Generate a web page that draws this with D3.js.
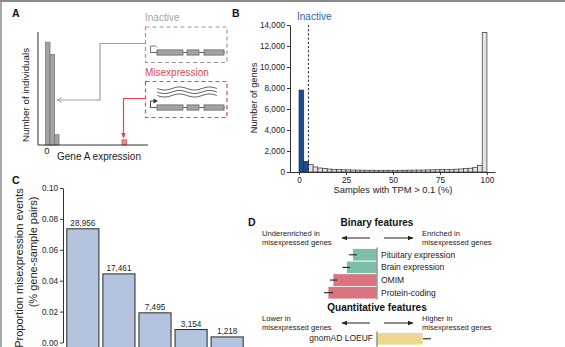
<!DOCTYPE html>
<html>
<head>
<meta charset="utf-8">
<script src="https://cdn.jsdelivr.net/npm/d3@7"></script>
<style>
  body { margin: 0; background: #fff; }
  svg { display: block; }
  text { font-family: "Liberation Sans", Arial, Helvetica, sans-serif; }
</style>
</head>
<body>
<svg id="fig" width="565" height="347"></svg>
<script>
// ---------- Panel A: schematic expression histogram ----------
const aBins = [0, 1, 2];            // expression bins of the bulk of individuals
const aCounts = [100, 88, 10];      // individuals per bin
const aOutlierBin = [17];           // the misexpressing individual
const aOutlierCount = [5];

// ---------- Panel B: genes by % samples with TPM > 0.1 ----------
const bBinWidth = 2.5;
const bCounts = [7800, 1000, 720, 480, 380, 320, 280, 250, 230, 210,
                 200, 190, 180, 175, 170, 165, 160, 160, 160, 160,
                 160, 165, 170, 175, 180, 185, 190, 200, 210, 220,
                 230, 240, 250, 270, 290, 320, 360, 430, 620, 13300];
const bInactiveCut = 5;
const bYTicks = [0, 2000, 4000, 6000, 8000, 10000, 12000, 14000];
const bXTicks = [0, 25, 50, 75, 100];

// ---------- Panel C: proportion of misexpression events ----------
const cCategories = ["1", "2", "3", "4", "5"];
const cValues = [0.0736, 0.0444, 0.0192, 0.0084, 0.0036];
const cLabels = ["28,956", "17,461", "7,495", "3,154", "1,218"];
const cYTicks = [0, 0.02, 0.04, 0.06, 0.08, 0.10];

// ---------- Panel D: feature enrichment ----------
const dBinaryNames = ["Pituitary expression", "Brain expression", "OMIM", "Protein-coding"];
const dBinaryEst = [-0.49, -0.61, -0.88, -0.98];
const dBinaryLo = [-0.56, -0.69, -0.94, -1.06];
const dBinaryHi = [-0.40, -0.54, -0.80, -0.88];
const dBinaryColors = ["#7bbfaa", "#7bbfaa", "#d9737f", "#d9737f"];
const dQuantNames = ["gnomAD LOEUF"];
const dQuantEst = [0.92];
const dQuantLo = [0.92];
const dQuantHi = [1.08];
const dQuantColors = ["#ecd88f"];

const svg = d3.select("#fig").attr("fill", "#222");
const FONT = '"Liberation Sans", Arial, Helvetica, sans-serif';

// figure frame (top and left rules)
svg.append("line").attr("x1", 0).attr("x2", 565).attr("y1", 1).attr("y2", 1)
  .attr("stroke", "#8a8a8a").attr("stroke-width", 2);
svg.append("line").attr("x1", 1).attr("x2", 1).attr("y1", 0).attr("y2", 347)
  .attr("stroke", "#8a8a8a").attr("stroke-width", 1.5);

function panelLetter(t, x, y) {
  svg.append("text").attr("x", x).attr("y", y).text(t)
    .attr("font-size", 10.5).attr("font-weight", "bold").attr("fill", "#111");
}

// arrowhead markers
const defs = svg.append("defs");
function marker(id, color, open) {
  const m = defs.append("marker").attr("id", id)
    .attr("viewBox", "0 0 10 10").attr("refX", 9).attr("refY", 5)
    .attr("markerWidth", 6).attr("markerHeight", 6)
    .attr("markerUnits", "userSpaceOnUse").attr("orient", "auto");
  if (open) {
    m.append("path").attr("d", "M1,1 L9,5 L1,9").attr("fill", "none")
      .attr("stroke", color).attr("stroke-width", 1.4);
  } else {
    m.append("path").attr("d", "M0,1 L10,5 L0,9 Z").attr("fill", color);
  }
}
marker("arGray", "#999", true);
marker("arRed", "#e2464e", false);
marker("arDark", "#222", false);

// =================== Panel A ===================
panelLetter("A", 12, 17);
const gA = svg.append("g");
const xA = d3.scaleLinear().domain([0, 24]).range([45.5, 153.5]);
const yA = d3.scaleLinear().domain([0, 110]).range([145, 32]);

gA.selectAll("rect.hist").data(aBins).join("rect").attr("class", "hist")
  .attr("x", d => xA(d)).attr("width", xA(1) - xA(0))
  .attr("y", (d, i) => yA(aCounts[i])).attr("height", (d, i) => yA(0) - yA(aCounts[i]))
  .attr("fill", "#a3a3a3").attr("stroke", "#777").attr("stroke-width", 0.8);
gA.selectAll("rect.out").data(aOutlierBin).join("rect").attr("class", "out")
  .attr("x", d => xA(d)).attr("width", xA(1) - xA(0))
  .attr("y", (d, i) => yA(aOutlierCount[i])).attr("height", (d, i) => yA(0) - yA(aOutlierCount[i]))
  .attr("fill", "#ef8a8a").attr("stroke", "#e2464e").attr("stroke-width", 0.8);

gA.append("line").attr("x1", 38).attr("x2", 38).attr("y1", 32).attr("y2", yA(0)).attr("stroke", "#333");
gA.append("line").attr("x1", 38).attr("x2", 148).attr("y1", yA(0)).attr("y2", yA(0)).attr("stroke", "#333");
gA.append("text").attr("x", 47).attr("y", 154).attr("text-anchor", "middle")
  .attr("font-size", 9.5).text("0");
gA.append("text").attr("x", 57).attr("y", 159.5).attr("font-size", 10).text("Gene A expression");
gA.append("text").attr("transform", "translate(28.5,95) rotate(-90)").attr("text-anchor", "middle")
  .attr("font-size", 9.8).text("Number of individuals");

// connectors from the gene boxes to the histogram
gA.append("path").attr("d", "M145,43.5 H100 V100 H57").attr("fill", "none")
  .attr("stroke", "#a0a0a0").attr("stroke-width", 1.2).attr("marker-end", "url(#arGray)");
gA.append("path").attr("d", "M145,98.5 H123.5 V138").attr("fill", "none")
  .attr("stroke", "#e2464e").attr("stroke-width", 1.2).attr("marker-end", "url(#arRed)");

// inactive gene box
gA.append("text").attr("x", 145).attr("y", 21).attr("font-size", 10).attr("fill", "#a3a3a3").text("Inactive");
gA.append("rect").attr("x", 145.5).attr("y", 27).attr("width", 81.5).attr("height", 35.5)
  .attr("fill", "none").attr("stroke", "#9a9a9a").attr("stroke-width", 1.2).attr("stroke-dasharray", "4,3");
// misexpression gene box
gA.append("text").attr("x", 145).attr("y", 76).attr("font-size", 10).attr("fill", "#e2464e").text("Misexpression");
gA.append("rect").attr("x", 145.5).attr("y", 81.5).attr("width", 81.5).attr("height", 36)
  .attr("fill", "none").attr("stroke", "#e2464e").attr("stroke-width", 1.2).attr("stroke-dasharray", "4,3");

function gene(yc, active) {
  const g = gA.append("g");
  g.append("line").attr("x1", 150).attr("x2", 225).attr("y1", yc).attr("y2", yc)
    .attr("stroke", "#666").attr("stroke-width", 1);
  [[157, 183], [187, 199], [204, 224]].forEach(([a, b]) => {
    g.append("rect").attr("x", a).attr("y", yc - 2.6).attr("width", b - a).attr("height", 5.2)
      .attr("fill", "#a3a3a3").attr("stroke", "#666").attr("stroke-width", 0.8);
  });
  if (active) {
    g.append("path").attr("d", `M150.5,${yc} V${yc - 6.5} H154`).attr("fill", "none")
      .attr("stroke", "#444").attr("stroke-width", 1);
    g.append("path").attr("d", `M153.5,${yc - 9} L158,${yc - 6.5} L153.5,${yc - 4} Z`).attr("fill", "#333");
  } else {
    // promoter without transcription: a bent stub ending in a short drop
    g.append("path").attr("d", `M150.5,${yc} V${yc - 6.5} H155.5 L157,${yc - 5}`).attr("fill", "none")
      .attr("stroke", "#777").attr("stroke-width", 1);
  }
}
gene(52.5, false);
gene(107.5, true);

// transcripts drawn as wavy lines above the active gene
const wave = d3.line().curve(d3.curveBasis);
[88.5, 92, 95.5].forEach(y0 => {
  const pts = [];
  for (let x = 157; x <= 218; x += 2) pts.push([x, y0 + 1.6 * Math.sin((x - 157) / 60 * 4 * Math.PI)]);
  gA.append("path").attr("d", wave(pts)).attr("fill", "none").attr("stroke", "#666").attr("stroke-width", 1);
});

// =================== Panel B ===================
panelLetter("B", 232, 17);
const gB = svg.append("g");
const xB = d3.scaleLinear().domain([-4.8, 104.3]).range([290, 495]);
const yB = d3.scaleLinear().domain([0, 14000]).range([172, 25]);

gB.selectAll("rect").data(bCounts).join("rect")
  .attr("x", (d, i) => xB(i * bBinWidth))
  .attr("width", xB(bBinWidth) - xB(0))
  .attr("y", d => yB(d)).attr("height", d => yB(0) - yB(d))
  .attr("fill", (d, i) => (i * bBinWidth < bInactiveCut ? "#1c4d8a" : "#e4e4e4"))
  .attr("stroke", (d, i) => (i * bBinWidth < bInactiveCut ? "#12335e" : "#333"))
  .attr("stroke-width", 0.7);

gB.append("line").attr("x1", xB(bInactiveCut)).attr("x2", xB(bInactiveCut))
  .attr("y1", 25).attr("y2", yB(0)).attr("stroke", "#222").attr("stroke-width", 1)
  .attr("stroke-dasharray", "2.2,2");

const axB_y = gB.append("g").attr("transform", "translate(290,0)")
  .call(d3.axisLeft(yB).tickValues(bYTicks).tickFormat(d3.format(",")).tickSize(3).tickSizeOuter(0).tickPadding(2));
const axB_x = gB.append("g").attr("transform", `translate(0,${yB(0)})`)
  .call(d3.axisBottom(xB).tickValues(bXTicks).tickSize(3).tickSizeOuter(0).tickPadding(2));
[axB_y, axB_x].forEach(a => {
  a.selectAll("text").attr("font-size", 8.2).attr("font-family", FONT).attr("fill", "#222");
  a.selectAll("path,line").attr("stroke", "#333");
});
gB.append("text").attr("x", 297).attr("y", 20).attr("font-size", 10).attr("fill", "#2b66a8").text("Inactive");
gB.append("text").attr("transform", "translate(257,98) rotate(-90)").attr("text-anchor", "middle")
  .attr("font-size", 9.2).text("Number of genes");
gB.append("text").attr("x", 393).attr("y", 193).attr("text-anchor", "middle")
  .attr("font-size", 9.4).text("Samples with TPM > 0.1 (%)");

// =================== Panel C ===================
panelLetter("C", 12, 184);
const gC = svg.append("g");
const yC = d3.scaleLinear().domain([0, 0.1]).range([342.5, 188]);
const xC = d3.scaleBand().domain(cCategories).range([65, 245]).paddingInner(0.11).paddingOuter(0.05);

gC.selectAll("rect").data(cValues).join("rect")
  .attr("x", (d, i) => xC(cCategories[i])).attr("width", xC.bandwidth())
  .attr("y", d => yC(d)).attr("height", d => 360 - yC(d))
  .attr("fill", "#b4c3de").attr("stroke", "#2a2a2a").attr("stroke-width", 1);
gC.selectAll("text.lab").data(cValues).join("text").attr("class", "lab")
  .attr("x", (d, i) => xC(cCategories[i]) + xC.bandwidth() / 2).attr("y", d => yC(d) - 2.5)
  .attr("text-anchor", "middle").attr("font-size", 8.2).text((d, i) => cLabels[i]);

const axC = gC.append("g").attr("transform", "translate(63,0)")
  .call(d3.axisLeft(yC).tickValues(cYTicks).tickFormat(d3.format(".2f")).tickSize(3).tickSizeOuter(0).tickPadding(2));
axC.selectAll("text").attr("font-size", 8.2).attr("font-family", FONT).attr("fill", "#222");
axC.selectAll("path,line").attr("stroke", "#333");
gC.append("text").attr("transform", "translate(22.5,268) rotate(-90)").attr("text-anchor", "middle")
  .attr("font-size", 11).text("Proportion misexpression events");
gC.append("text").attr("transform", "translate(36.5,252) rotate(-90)").attr("text-anchor", "middle")
  .attr("font-size", 11).text("(% gene-sample pairs)");

// =================== Panel D ===================
panelLetter("D", 248, 226);
const gD = svg.append("g");
const xD = d3.scaleLinear().domain([-1, 1]).range([327, 427]);
const yDb = d3.scaleBand().domain(dBinaryNames).range([248.5, 299]);
const yDq = d3.scaleBand().domain(dQuantNames).range([332.5, 345]);

function header(txt, y, subL, subR) {
  gD.append("text").attr("x", 377).attr("y", y).attr("text-anchor", "middle")
    .attr("font-size", 10).attr("font-weight", "bold").attr("fill", "#111").text(txt);
  const ay = y + 12;
  gD.append("line").attr("x1", 370).attr("x2", 342).attr("y1", ay).attr("y2", ay)
    .attr("stroke", "#222").attr("stroke-width", 1).attr("marker-end", "url(#arDark)");
  gD.append("line").attr("x1", 384).attr("x2", 413).attr("y1", ay).attr("y2", ay)
    .attr("stroke", "#222").attr("stroke-width", 1).attr("marker-end", "url(#arDark)");
  [[262, subL], [422, subR]].forEach(([x, lines]) => {
    lines.forEach((l, k) => gD.append("text").attr("x", x).attr("y", y + 10 + k * 9)
      .attr("font-size", 7.6).text(l));
  });
}
header("Binary features", 226, ["Underenriched in", "misexpressed genes"], ["Enriched in", "misexpressed genes"]);
header("Quantitative features", 311, ["Lower in", "misexpressed genes"], ["Higher in", "misexpressed genes"]);

function bars(names, est, lo, hi, cols, yS) {
  gD.selectAll(null).data(est).join("rect")
    .attr("x", d => Math.min(xD(0), xD(d))).attr("width", d => Math.abs(xD(d) - xD(0)))
    .attr("y", (d, i) => yS(names[i])).attr("height", yS.bandwidth())
    .attr("fill", (d, i) => cols[i]).attr("stroke", "#fff").attr("stroke-width", 0.8);
  gD.selectAll(null).data(est).join("line")
    .attr("x1", (d, i) => xD(lo[i])).attr("x2", (d, i) => xD(hi[i]))
    .attr("y1", (d, i) => yS(names[i]) + yS.bandwidth() / 2).attr("y2", (d, i) => yS(names[i]) + yS.bandwidth() / 2)
    .attr("stroke", "#222").attr("stroke-width", 1.1);
}
bars(dBinaryNames, dBinaryEst, dBinaryLo, dBinaryHi, dBinaryColors, yDb);
bars(dQuantNames, dQuantEst, dQuantLo, dQuantHi, dQuantColors, yDq);

gD.append("line").attr("x1", xD(0)).attr("x2", xD(0)).attr("y1", 247.5).attr("y2", 299.5)
  .attr("stroke", "#8c8c8c").attr("stroke-width", 1.4);
gD.append("line").attr("x1", xD(0)).attr("x2", xD(0)).attr("y1", 331.5).attr("y2", 347)
  .attr("stroke", "#8c8c8c").attr("stroke-width", 1.4);

gD.selectAll("text.bl").data(dBinaryNames).join("text").attr("class", "bl")
  .attr("x", xD(0) + 4).attr("y", d => yDb(d) + yDb.bandwidth() / 2 + 3)
  .attr("font-size", 8.5).text(d => d);
gD.selectAll("text.ql").data(dQuantNames).join("text").attr("class", "ql")
  .attr("x", xD(0) - 4).attr("y", d => yDq(d) + yDq.bandwidth() / 2 + 2.5)
  .attr("text-anchor", "end").attr("font-size", 8.5).text(d => d);
</script>
</body>
</html>
